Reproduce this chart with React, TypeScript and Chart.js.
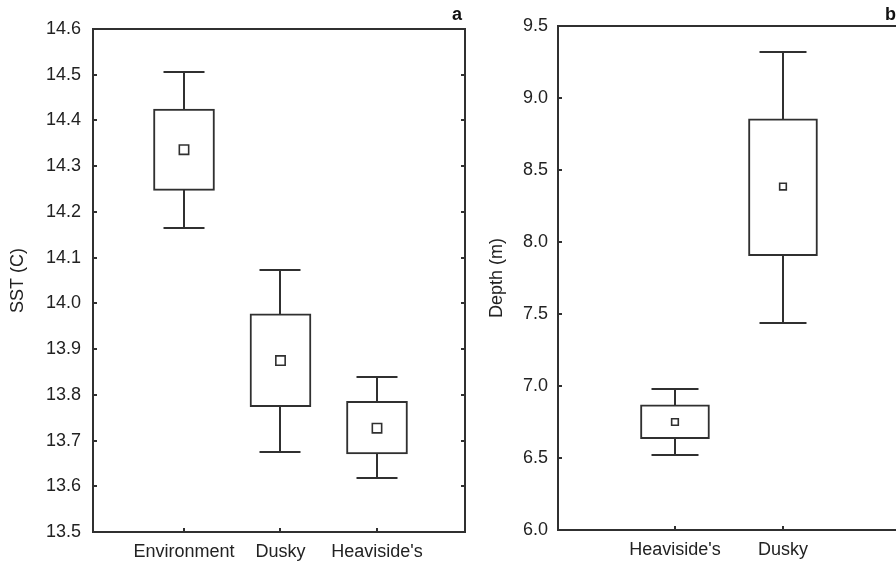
import React, { useEffect, useRef } from 'react';
import { Chart, registerables } from 'chart.js';

Chart.register(...registerables);

// ---------- Data (panel a: SST) ----------
const sstCategories = ['Environment', 'Dusky', "Heaviside's"];
const sstMean = [14.336, 13.875, 13.727];
const sstBoxLow = [14.247, 13.774, 13.671];
const sstBoxHigh = [14.425, 13.977, 13.786];
const sstWhiskerLow = [14.165, 13.675, 13.618];
const sstWhiskerHigh = [14.507, 14.072, 13.839];

// ---------- Data (panel b: Depth) ----------
const depthCategories = ["Heaviside's", 'Dusky'];
const depthMean = [6.75, 8.385];
const depthBoxLow = [6.635, 7.905];
const depthBoxHigh = [6.87, 8.855];
const depthWhiskerLow = [6.52, 7.44];
const depthWhiskerHigh = [6.98, 9.32];

const LINE = '#303030';
const TEXT = '#222222';
const FONT = "'Liberation Sans', Arial, Helvetica, sans-serif";

interface Panel {
  letter: string;
  letterInset: number;
  yTitle: string;
  categories: string[];
  mean: number[];
  boxLow: number[];
  boxHigh: number[];
  whiskerLow: number[];
  whiskerHigh: number[];
  yMin: number;
  yMax: number;
  yStep: number;
  xMin: number;
  xMax: number;
  canvasLeft: number;
  canvasWidth: number;
  axisWidth: number;
  padRight: number;
  padTop: number;
  xAxisHeight: number;
  boxWidth: number;
  capWidth: number;
  meanRadius: number;
  labelPad: number;
  titlePad: number;
}

const panelA: Panel = {
  letter: 'a',
  letterInset: 3,
  yTitle: 'SST (C)',
  categories: sstCategories,
  mean: sstMean,
  boxLow: sstBoxLow,
  boxHigh: sstBoxHigh,
  whiskerLow: sstWhiskerLow,
  whiskerHigh: sstWhiskerHigh,
  yMin: 13.5,
  yMax: 14.6,
  yStep: 0.1,
  xMin: 0.057,
  xMax: 3.912,
  canvasLeft: 0,
  canvasWidth: 490,
  axisWidth: 93,
  padRight: 25,
  padTop: 29,
  xAxisHeight: 30,
  boxWidth: 61,
  capWidth: 41,
  meanRadius: 6.6,
  labelPad: 12,
  titlePad: 7.5,
};

const panelB: Panel = {
  letter: 'b',
  letterInset: 14,
  yTitle: 'Depth (m)',
  categories: depthCategories,
  mean: depthMean,
  boxLow: depthBoxLow,
  boxHigh: depthBoxHigh,
  whiskerLow: depthWhiskerLow,
  whiskerHigh: depthWhiskerHigh,
  yMin: 6.0,
  yMax: 9.5,
  yStep: 0.5,
  xMin: -0.083,
  xMax: 3.176,
  canvasLeft: 480,
  canvasWidth: 440,
  axisWidth: 78,
  padRight: 10,
  padTop: 26,
  xAxisHeight: 32,
  boxWidth: 69,
  capWidth: 47,
  meanRadius: 4.7,
  labelPad: 10,
  titlePad: 6.2,
};

function makeDecorPlugin(p: Panel) {
  return {
    id: 'boxDecor' + p.letter,
    beforeDatasetsDraw(chart: any) {
      const { ctx, scales } = chart;
      const x = scales.x;
      const y = scales.y;
      ctx.save();
      ctx.strokeStyle = LINE;
      ctx.lineWidth = 2;
      p.categories.forEach((_, i) => {
        const px = Math.round(x.getPixelForValue(i + 1));
        const yHi = y.getPixelForValue(p.whiskerHigh[i]);
        const yLo = y.getPixelForValue(p.whiskerLow[i]);
        ctx.beginPath();
        ctx.moveTo(px, yHi);
        ctx.lineTo(px, yLo);
        ctx.moveTo(px - p.capWidth / 2, Math.round(yHi));
        ctx.lineTo(px + p.capWidth / 2, Math.round(yHi));
        ctx.moveTo(px - p.capWidth / 2, Math.round(yLo));
        ctx.lineTo(px + p.capWidth / 2, Math.round(yLo));
        ctx.stroke();
      });
      ctx.restore();
    },
    afterDraw(chart: any) {
      const { ctx, chartArea: a, scales } = chart;
      const x = scales.x;
      const y = scales.y;
      ctx.save();
      ctx.strokeStyle = LINE;
      ctx.lineWidth = 2;
      ctx.strokeRect(a.left, a.top, a.right - a.left, a.bottom - a.top);
      ctx.beginPath();
      y.ticks.forEach((t: any) => {
        const py = Math.round(y.getPixelForValue(t.value));
        ctx.moveTo(a.left, py);
        ctx.lineTo(a.left + 4, py);
        ctx.moveTo(a.right, py);
        ctx.lineTo(a.right - 4, py);
      });
      p.categories.forEach((_, i) => {
        const px = Math.round(x.getPixelForValue(i + 1));
        ctx.moveTo(px, a.bottom);
        ctx.lineTo(px, a.bottom - 4);
      });
      ctx.stroke();
      ctx.fillStyle = '#111';
      ctx.font = `bold 18px ${FONT}`;
      ctx.textAlign = 'right';
      ctx.textBaseline = 'alphabetic';
      ctx.fillText(p.letter, a.right - p.letterInset, 20);
      ctx.restore();
    },
  };
}

function PanelChart({ p }: { p: Panel }) {
  const ref = useRef<HTMLCanvasElement | null>(null);
  useEffect(() => {
    if (!ref.current) return;
    const chart = new Chart(ref.current, {
      type: 'scatter',
      data: {
        datasets: [
          {
            type: 'scatter',
            data: p.categories.map((_, i) => ({ x: i + 1, y: p.mean[i] })),
            pointStyle: 'rect',
            pointRadius: p.meanRadius,
            pointBackgroundColor: '#ffffff',
            pointBorderColor: LINE,
            pointBorderWidth: 1.6,
            order: 0,
          } as any,
          {
            type: 'bar',
            data: p.categories.map((_, i) => ({ x: i + 1, y: [p.boxLow[i], p.boxHigh[i]] })),
            backgroundColor: '#ffffff',
            borderColor: LINE,
            borderWidth: 2,
            borderSkipped: false,
            barThickness: p.boxWidth,
            order: 1,
          } as any,
        ],
      },
      options: {
        animation: false,
        responsive: false,
        maintainAspectRatio: false,
        layout: { padding: { left: 0, right: p.padRight, top: p.padTop, bottom: 0 } },
        plugins: { legend: { display: false }, tooltip: { enabled: false } },
        scales: {
          x: {
            type: 'linear',
            min: p.xMin,
            max: p.xMax,
            offset: false,
            grid: { display: false, drawTicks: false },
            border: { display: false },
            afterBuildTicks: (s: any) => {
              s.ticks = p.categories.map((_, i) => ({ value: i + 1 }));
            },
            afterFit: (s: any) => {
              s.height = p.xAxisHeight;
            },
            ticks: {
              autoSkip: false,
              maxRotation: 0,
              padding: 9,
              color: TEXT,
              font: { family: FONT, size: 18 },
              callback: (_v: any, i: number) => p.categories[i],
            },
          },
          y: {
            type: 'linear',
            min: p.yMin,
            max: p.yMax,
            grid: { display: false, drawTicks: false },
            border: { display: false },
            afterFit: (s: any) => {
              s.width = p.axisWidth;
            },
            ticks: {
              stepSize: p.yStep,
              padding: p.labelPad,
              color: TEXT,
              font: { family: FONT, size: 18 },
              callback: (v: any) => Number(v).toFixed(1),
            },
            title: {
              display: true,
              text: p.yTitle,
              color: TEXT,
              font: { family: FONT, size: 18 },
              padding: { top: p.titlePad, bottom: 0 },
            },
          },
        },
      } as any,
      plugins: [makeDecorPlugin(p)],
    });
    return () => chart.destroy();
  }, [p]);
  return (
    <canvas
      ref={ref}
      width={p.canvasWidth}
      height={562}
      style={{
        position: 'absolute',
        left: p.canvasLeft,
        top: 0,
        width: p.canvasWidth,
        height: 562,
        display: 'block',
      }}
    />
  );
}

export default function App() {
  return (
    <div
      style={{
        position: 'fixed',
        left: 0,
        top: 0,
        width: 896,
        height: 562,
        overflow: 'hidden',
        background: '#ffffff',
      }}
    >
      <PanelChart p={panelA} />
      <PanelChart p={panelB} />
    </div>
  );
}
